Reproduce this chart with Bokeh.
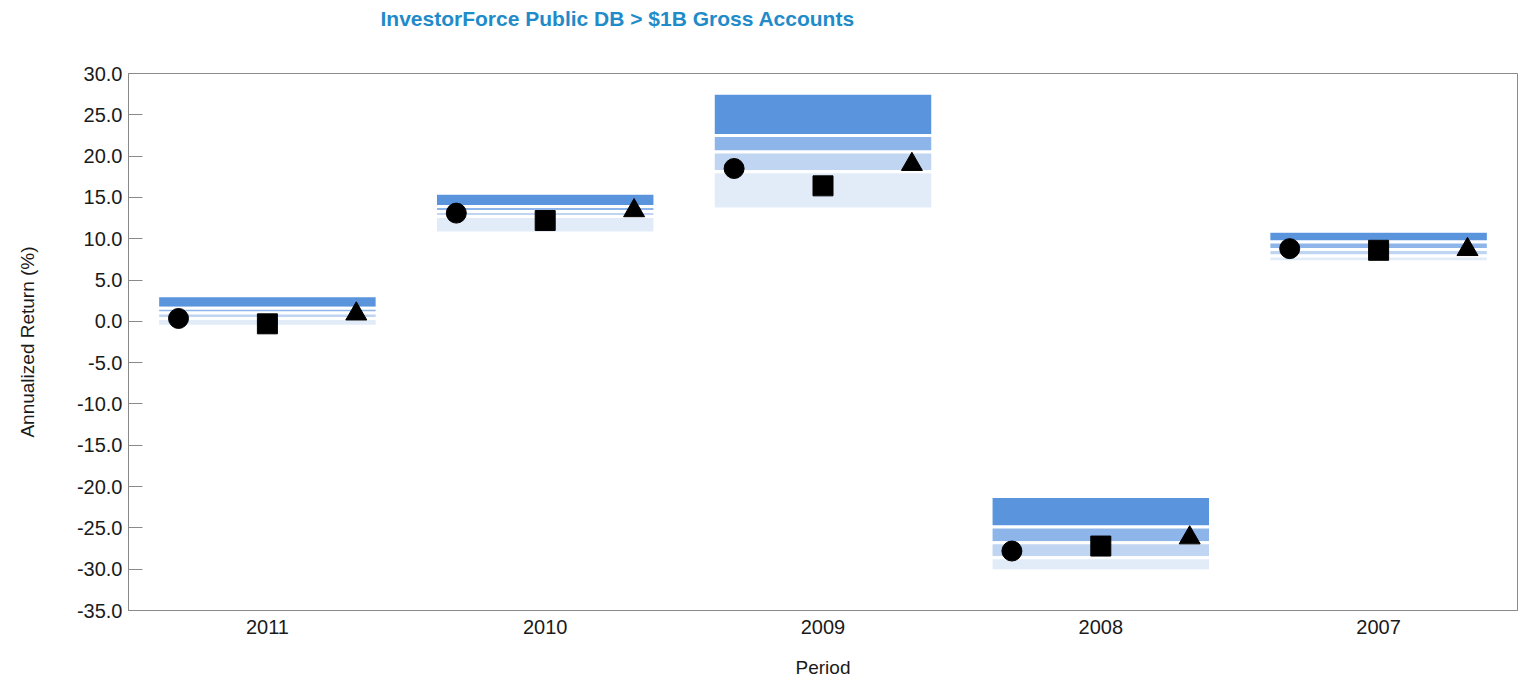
from bokeh.plotting import figure
from bokeh.models import ColumnDataSource, FactorRange, FixedTicker, CustomJSTickFormatter, Title
from bokeh.transform import dodge
from bokeh.embed import file_html
from bokeh.resources import INLINE

periods = ["2011", "2010", "2009", "2008", "2007"]
# percentile bands of the universe
p95 = [3.1, 15.5, 27.6, -21.2, 10.9]
p75 = [1.6, 13.9, 22.5, -24.9, 9.6]
p50 = [1.0, 13.3, 20.5, -26.8, 8.7]
p25 = [0.35, 12.7, 18.1, -28.6, 7.9]
p05 = [-0.6, 10.7, 13.6, -30.2, 7.2]
# three portfolios
circle_vals = [0.35, 13.1, 18.5, -27.8, 8.8]
square_vals = [-0.3, 12.2, 16.4, -27.2, 8.6]
triangle_vals = [0.9, 13.4, 19.0, -26.2, 8.7]

y_ticks = [30, 25, 20, 15, 10, 5, 0, -5, -10, -15, -20, -25, -30, -35]
title_text = "InvestorForce Public DB > $1B Gross Accounts"

FONT = "Liberation Sans"

src = ColumnDataSource(dict(period=periods, p95=p95, p75=p75, p50=p50, p25=p25, p05=p05,
                            c=circle_vals, s=square_vals, t=triangle_vals))

p = figure(width=1520, height=680, x_range=FactorRange(*periods, range_padding=0),
           y_range=(-35, 30), output_backend="svg", toolbar_location=None,
           min_border_left=128, min_border_right=3, min_border_top=73, min_border_bottom=4)

# real title, with a blank spacer title between it and the frame
p.title.text = title_text
p.title.text_font = FONT
p.title.text_font_size = "21px"
p.title.text_font_style = "bold"
p.title.text_color = "#1f8bc9"
p.title.align = "left"
p.title.offset = 252
p.title.standoff = 0
p.add_layout(Title(text=" ", text_font_size="20px", standoff=20), "above")

band_colors = ["#5994dc", "#8db5e9", "#bfd5f1", "#e2ecf8"]
bands = [("p75", "p95"), ("p50", "p75"), ("p25", "p50"), ("p05", "p25")]
for (lo, hi), col in zip(bands, band_colors):
    p.vbar(x="period", bottom=lo, top=hi, width=0.79, source=src,
           fill_color=col, line_color="white", line_width=3)

p.scatter(x=dodge("period", -0.32, range=p.x_range), y="c", source=src, marker="circle",
          size=20, fill_color="black", line_color="black")
p.scatter(x=dodge("period", 0.0, range=p.x_range), y="s", source=src, marker="square",
          size=20, fill_color="black", line_color="black")
p.scatter(x=dodge("period", 0.32, range=p.x_range), y="t", source=src, marker="triangle",
          size=21, fill_color="black", line_color="black")

p.xgrid.visible = False
p.ygrid.visible = False
p.outline_line_color = "#8a8a8a"
p.outline_line_width = 1

p.yaxis.ticker = FixedTicker(ticks=y_ticks)
p.yaxis.formatter = CustomJSTickFormatter(code="return tick.toFixed(1);")
p.yaxis.axis_label = "Annualized Return (%)"
p.xaxis.axis_label = "Period"
for ax in (p.xaxis, p.yaxis):
    ax.axis_label_text_font = FONT
    ax.axis_label_text_font_style = "normal"
    ax.axis_label_text_font_size = "19px"
    ax.axis_label_text_color = "#1a1a1a"
    ax.major_label_text_font = FONT
    ax.major_label_text_color = "#1a1a1a"
    ax.axis_line_color = "#8a8a8a"
    ax.minor_tick_line_color = None
p.yaxis.major_label_text_font_size = "20px"
p.xaxis.major_label_text_font_size = "20px"
p.yaxis.major_tick_in = 14
p.yaxis.major_tick_out = 0
p.yaxis.major_tick_line_color = "#8a8a8a"
p.yaxis.major_label_standoff = 6
p.xaxis.major_tick_line_color = None
p.xaxis.major_tick_in = 0
p.xaxis.major_tick_out = 0
p.xaxis.major_label_standoff = 9
p.xaxis.axis_label_standoff = 20
p.yaxis.axis_label_standoff = 36

open("out.html", "w").write(file_html(p, INLINE))
